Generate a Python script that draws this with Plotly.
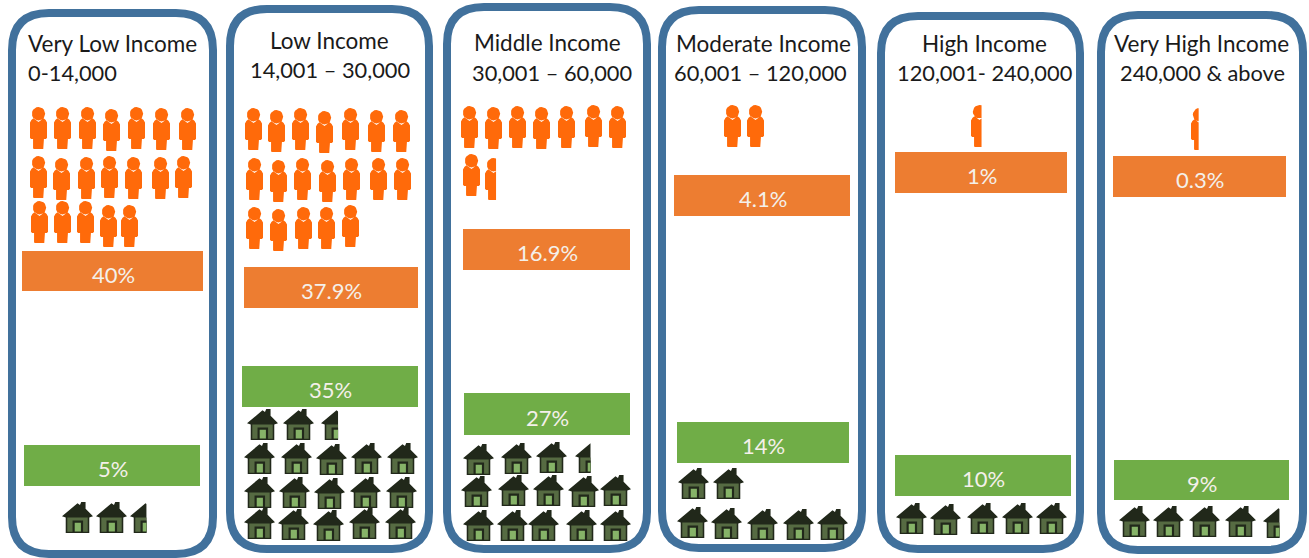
"""Income bands infographic: share of households vs share of housing supply."""

import math

import plotly.graph_objects as go

# chart values
band_names = ["Very Low Income", "Low Income", "Middle Income", "Moderate Income", "High Income", "Very High Income"]
band_ranges = ["0-14,000", "14,001 – 30,000", "30,001 – 60,000", "60,001 – 120,000", "120,001- 240,000", "240,000 & above"]
household_share = ["40%", "37.9%", "16.9%", "4.1%", "1%", "0.3%"]
housing_share = ["5%", "35%", "27%", "14%", "10%", "9%"]

# layout in pixels
WIDTH, HEIGHT = 1309, 558
panel_boxes = [(12, 13, 213, 554), (230, 9, 429, 549), (447, 7, 647, 549), (662, 10, 862, 548), (881, 16, 1080, 549), (1101, 15, 1303, 550)]
orange_boxes = [(22, 251, 203, 291), (244, 267, 418, 308), (463, 229, 630, 270), (674, 175, 850, 216), (895, 152, 1067, 193), (1113, 156, 1286, 197)]
green_boxes = [(24, 445, 200, 486), (242, 366, 418, 407), (464, 393, 630, 435), (677, 422, 849, 463), (895, 455, 1071, 496), (1114, 460, 1289, 500)]
name_x = [26, 329, 547, 763, 984, 1201]
range_x = [26, 330, 552, 760, 984, 1202]
title_align = ["left", "center", "center", "center", "center", "center"]
title_y = [(43, 72), (40, 69), (42, 72), (43, 72), (43, 72), (43, 72)]

# (left, top, visible fraction)
person_spots = [
    (30, 107, 1), (54, 107, 1), (79, 107, 1), (103, 109, 1), (128, 107, 1), (153, 108, 1), (179, 108, 1),
    (30, 156, 1), (53, 158, 1), (78, 157, 1), (101, 156, 1), (125, 157, 1), (152, 157, 1), (175, 156, 1),
    (31, 201, 1), (54, 201, 1), (77, 201, 1), (100, 205, 1), (121, 205, 1),
    (245, 108, 1), (268, 110, 1), (292, 108, 1), (316, 111, 1), (342, 108, 1), (368, 110, 1), (393, 110, 1),
    (246, 158, 1), (270, 160, 1), (294, 158, 1), (319, 160, 1), (343, 158, 1), (370, 158, 1), (394, 158, 1),
    (246, 207, 1), (270, 209, 1), (295, 207, 1), (318, 207, 1), (342, 205, 1),
    (461, 106, 1), (485, 107, 1), (509, 106, 1), (533, 107, 1), (558, 106, 1), (585, 105, 1), (609, 106, 1),
    (463, 154, 1), (485, 158, 0.65),
    (724, 105, 1), (747, 105, 1),
    (971, 105, 0.62),
    (1191, 108, 0.45),
]
house_spots = [
    (62, 502, 1), (96, 502, 1), (130, 502, 0.53),
    (247, 409, 1), (283, 409, 1), (321, 409, 0.55),
    (244, 443, 1), (281, 443, 1), (316, 444, 1), (351, 443, 1), (387, 443, 1),
    (244, 477, 1), (279, 477, 1), (314, 478, 1), (350, 477, 1), (386, 477, 1),
    (244, 508, 1), (278, 509, 1), (313, 510, 1), (349, 508, 1), (385, 508, 1),
    (463, 444, 1), (501, 443, 1), (536, 442, 1), (575, 442, 0.5),
    (461, 476, 1), (498, 475, 1), (533, 475, 1), (568, 476, 1), (600, 475, 1),
    (463, 510, 1), (497, 510, 1), (528, 510, 1), (566, 510, 1), (600, 510, 1),
    (678, 468, 1), (713, 468, 1),
    (677, 507, 1), (711, 508, 1), (747, 509, 1), (783, 509, 1), (817, 509, 1),
    (896, 503, 1), (930, 504, 1), (967, 503, 1), (1002, 503, 1), (1036, 503, 1),
    (1119, 506, 1), (1153, 506, 1), (1189, 506, 1), (1225, 506, 1), (1263, 507, 0.53),
]

PERSON_W, PERSON_H = 17, 42
HOUSE_W, HOUSE_H = 31, 31


def circle(cx, cy, rx, ry):
    return [(cx + rx * math.cos(i * math.pi / 10), cy + ry * math.sin(i * math.pi / 10)) for i in range(20)]


# icon outlines in unit squares
person_head = circle(0.5, 0.16, 6.7 / PERSON_W, 6.7 / PERSON_H)
person_body = [
    (0.08, 0.31), (0.2, 0.27), (0.3, 0.3), (0.5, 0.36), (0.7, 0.3), (0.8, 0.27), (0.92, 0.31), (1.0, 0.37),
    (1.0, 0.73), (0.94, 0.76), (0.82, 0.76), (0.82, 0.98), (0.78, 1.0), (0.22, 1.0), (0.18, 0.98),
    (0.18, 0.76), (0.06, 0.76), (0.0, 0.73), (0.0, 0.37),
]
house_roof = [(0.0, 0.46), (0.5, 0.04), (0.58, 0.1), (0.62, 0.0), (0.76, 0.0), (0.76, 0.22), (1.0, 0.46), (0.88, 0.5), (0.12, 0.5)]
house_frame = [(0.12, 0.48), (0.88, 0.48), (0.88, 1.0), (0.12, 1.0)]
house_wall = [(0.17, 0.5), (0.83, 0.5), (0.83, 0.96), (0.17, 0.96)]
house_door = [(0.34, 0.6), (0.68, 0.6), (0.68, 1.0), (0.34, 1.0)]
house_pane = [(0.41, 0.67), (0.61, 0.67), (0.61, 0.95), (0.41, 0.95)]


def clip_right(points, limit):
    # cut a polygon at a vertical line, for the part-filled icons
    out = []
    for i, (x1, y1) in enumerate(points):
        x2, y2 = points[(i + 1) % len(points)]
        if x1 <= limit:
            out.append((x1, y1))
        if (x1 <= limit) != (x2 <= limit):
            t = (limit - x1) / (x2 - x1)
            out.append((limit, y1 + t * (y2 - y1)))
    return out


def icon_trace(outlines, spots, w, h, color):
    xs, ys = [], []
    for left, top, frac in spots:
        for outline in outlines:
            pts = clip_right(outline, frac) if frac < 1 else outline
            if not pts:
                continue
            xs += [left + x * w for x, _ in pts] + [left + pts[0][0] * w, None]
            ys += [top + y * h for _, y in pts] + [top + pts[0][1] * h, None]
    return go.Scatter(
        x=xs, y=ys, mode="lines", fill="toself", fillcolor=color,
        line=dict(width=0), hoverinfo="skip", showlegend=False,
    )


def share_bars(boxes, color):
    return go.Bar(
        x=[(b[0] + b[2]) / 2 for b in boxes],
        y=[b[3] - b[1] for b in boxes],
        base=[b[1] for b in boxes],
        width=[b[2] - b[0] for b in boxes],
        marker=dict(color=color, line=dict(width=0)),
        hoverinfo="skip",
        showlegend=False,
    )


def rounded_box(x0, y0, x1, y1, r=37):
    return (
        f"M{x0 + r},{y0} L{x1 - r},{y0} Q{x1},{y0} {x1},{y0 + r} L{x1},{y1 - r} "
        f"Q{x1},{y1} {x1 - r},{y1} L{x0 + r},{y1} Q{x0},{y1} {x0},{y1 - r} L{x0},{y0 + r} Q{x0},{y0} {x0 + r},{y0} Z"
    )


fig = go.Figure()
fig.add_trace(share_bars(orange_boxes, "#ED7D31"))
fig.add_trace(share_bars(green_boxes, "#70AD47"))
fig.add_trace(icon_trace([person_head, person_body], person_spots, PERSON_W, PERSON_H, "#FF6A0A"))
fig.add_trace(icon_trace([house_roof, house_frame], house_spots, HOUSE_W, HOUSE_H, "#21281A"))
fig.add_trace(icon_trace([house_wall], house_spots, HOUSE_W, HOUSE_H, "#566B42"))
fig.add_trace(icon_trace([house_door], house_spots, HOUSE_W, HOUSE_H, "#21281A"))
fig.add_trace(icon_trace([house_pane], house_spots, HOUSE_W, HOUSE_H, "#86B368"))

for box in panel_boxes:
    fig.add_shape(
        type="path", path=rounded_box(*box), layer="below",
        line=dict(color="#41719C", width=8), fillcolor="white",
    )

for i, name in enumerate(band_names):
    y1, y2 = title_y[i]
    fig.add_annotation(
        x=name_x[i], y=y1, text=name, showarrow=False, xanchor=title_align[i], yanchor="middle",
        font=dict(family="Lato", size=22.5, color="#1a1a1a"),
    )
    fig.add_annotation(
        x=range_x[i], y=y2, text=band_ranges[i], showarrow=False, xanchor=title_align[i], yanchor="middle",
        font=dict(family="Lato", size=21.8, color="#1a1a1a"),
    )

# bar labels sit a touch under the bar centre in the reference
for boxes, labels in [(orange_boxes, household_share), (green_boxes, housing_share)]:
    for box, label in zip(boxes, labels):
        fig.add_annotation(
            x=(box[0] + box[2]) / 2 + 0.5, y=(box[1] + box[3]) / 2 + 3, text=label, showarrow=False,
            font=dict(family="Lato", size=22, color="#f4f0ea"),
        )

fig.update_layout(
    width=WIDTH, height=HEIGHT,
    margin=dict(l=0, r=0, t=0, b=0),
    paper_bgcolor="white", plot_bgcolor="white",
    barmode="overlay",
    xaxis=dict(range=[0, WIDTH], visible=False, fixedrange=True),
    yaxis=dict(range=[HEIGHT, 0], visible=False, fixedrange=True),
)
# page margin would push the figure off the photographed window
fig.write_html("out.html", config=dict(displayModeBar=False), post_script="document.body.style.margin = '0';")
